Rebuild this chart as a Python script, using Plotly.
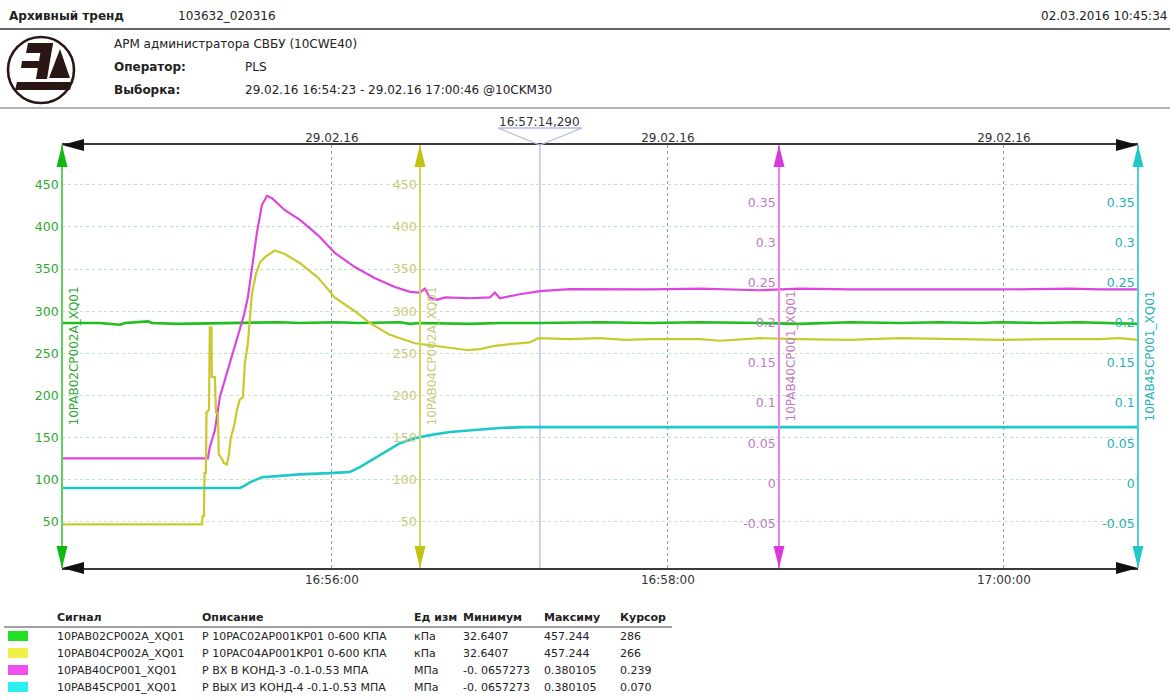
import plotly.graph_objects as go

DAY = "2016-02-29 "
x_range = ["16:54:23.6", "17:00:47.9"]
cursor_time = "16:57:14.29"
time_ticks = ["16:56:00", "16:58:00", "17:00:00"]
time_tick_text = ["16:56:00", "16:58:00", "17:00:00"]
date_tick_text = ["29.02.16", "29.02.16", "29.02.16"]

kpa_range = [-4.7, 497.3]
kpa_ticks = [50, 100, 150, 200, 250, 300, 350, 400, 450]
mpa_range = [-0.106, 0.4225]
mpa_ticks = [-0.05, 0, 0.05, 0.1, 0.15, 0.2, 0.25, 0.3, 0.35]
mpa_tick_text = ["-0.05", "0", "0.05", "0.1", "0.15", "0.2", "0.25", "0.3", "0.35"]

green_t = ["16:54:23.6", "16:54:37.1", "16:54:44.3", "16:54:46.1", "16:54:54.3", "16:54:55.7",
           "16:55:05.0", "16:55:23.6", "16:55:41.4", "16:55:48.6", "16:56:01.1", "16:56:10.0",
           "16:56:24.3", "16:56:27.9", "16:56:31.4", "16:56:49.3", "16:57:00.0", "16:57:14.3",
           "16:57:35.7", "16:57:53.6", "16:58:11.4", "16:58:32.9", "16:58:47.1", "16:59:05.0",
           "16:59:22.9", "16:59:37.1", "16:59:51.4", "16:59:58.6", "17:00:12.9", "17:00:27.1",
           "17:00:37.9", "17:00:45.0", "17:00:47.9"]
green_v = [286, 286, 284, 286, 288, 286, 285, 286, 287, 286, 287, 286, 287, 285, 286, 285, 286,
           286, 287, 286, 287, 286, 285, 287, 286, 287, 286, 287, 286, 287, 286, 285, 285]

yellow_t = ["16:54:23.6", "16:55:13.6", "16:55:13.8", "16:55:14.3", "16:55:14.5", "16:55:15.0",
            "16:55:15.2", "16:55:16.1", "16:55:16.4", "16:55:17.0", "16:55:17.1", "16:55:18.2",
            "16:55:18.6", "16:55:19.3", "16:55:19.6", "16:55:20.7", "16:55:21.4", "16:55:22.5",
            "16:55:23.2", "16:55:23.9", "16:55:25.0", "16:55:26.1", "16:55:27.1", "16:55:28.2",
            "16:55:28.9", "16:55:30.0", "16:55:31.4", "16:55:32.9", "16:55:34.3", "16:55:36.4",
            "16:55:39.6", "16:55:43.2", "16:55:48.6", "16:55:55.0", "16:56:01.1", "16:56:08.2",
            "16:56:13.6", "16:56:20.7", "16:56:29.6", "16:56:38.6", "16:56:48.2", "16:56:52.9",
            "16:56:58.2", "16:57:03.6", "16:57:10.7", "16:57:13.6", "16:57:25.0", "16:57:35.7",
            "16:57:44.6", "16:57:53.6", "16:58:11.4", "16:58:18.6", "16:58:32.9", "16:58:47.1",
            "16:59:05.0", "16:59:22.9", "16:59:40.7", "16:59:58.6", "17:00:16.4", "17:00:34.3",
            "17:00:41.4", "17:00:47.9"]
yellow_v = [47, 47, 57, 57, 108, 108, 180, 183, 281, 281, 222, 222, 180, 178, 130, 125, 120, 118,
            130, 150, 163, 183, 195, 198, 238, 262, 320, 345, 358, 365, 372, 368, 357, 340, 316,
            300, 286, 272, 262, 258, 254, 255, 259, 261, 263, 268, 267, 268, 266, 267, 267, 265,
            268, 267, 266, 268, 267, 266, 267, 267, 268, 266]

magenta_t = ["16:54:23.6", "16:55:15.7", "16:55:16.4", "16:55:18.2", "16:55:20.0", "16:55:21.8",
             "16:55:23.6", "16:55:25.4", "16:55:27.1", "16:55:28.6", "16:55:30.0", "16:55:31.4",
             "16:55:33.2", "16:55:35.0", "16:55:36.8", "16:55:38.6", "16:55:43.2", "16:55:48.6",
             "16:55:55.0", "16:56:01.1", "16:56:08.2", "16:56:15.4", "16:56:22.5", "16:56:27.9",
             "16:56:31.4", "16:56:33.2", "16:56:35.0", "16:56:37.5", "16:56:40.4", "16:56:49.3",
             "16:56:56.4", "16:56:58.2", "16:57:00.0", "16:57:07.1", "16:57:14.3", "16:57:25.0",
             "16:57:35.7", "16:57:53.6", "16:58:11.4", "16:58:32.9", "16:58:47.1", "16:59:05.0",
             "16:59:22.9", "16:59:44.3", "16:59:58.6", "17:00:23.6", "17:00:34.3", "17:00:47.9"]
magenta_v = [0.031, 0.031, 0.045, 0.066, 0.108, 0.129, 0.150, 0.170, 0.191, 0.210, 0.2325, 0.270,
             0.3125, 0.3475, 0.359, 0.356, 0.341, 0.329, 0.310, 0.2875, 0.270, 0.256, 0.245, 0.239,
             0.238, 0.243, 0.232, 0.229, 0.232, 0.231, 0.232, 0.238, 0.231, 0.236, 0.240, 0.2425,
             0.242, 0.242, 0.243, 0.241, 0.243, 0.242, 0.242, 0.242, 0.242, 0.243, 0.242, 0.242]

cyan_t = ["16:54:23.6", "16:55:27.1", "16:55:28.9", "16:55:30.7", "16:55:35.0", "16:55:41.4",
          "16:55:48.6", "16:55:59.3", "16:56:06.4", "16:56:10.0", "16:56:17.1", "16:56:24.3",
          "16:56:29.6", "16:56:35.0", "16:56:42.1", "16:56:49.3", "16:57:00.0", "16:57:08.9",
          "17:00:47.9"]
cyan_v = [-0.006, -0.006, -0.003, 0.001, 0.0075, 0.009, 0.011, 0.0125, 0.014, 0.020, 0.035, 0.050,
          0.056, 0.060, 0.064, 0.066, 0.069, 0.070, 0.070]

signals = ["10PAB02CP002A_XQ01", "10PAB04CP002A_XQ01", "10PAB40CP001_XQ01", "10PAB45CP001_XQ01"]
descriptions = ["P 10PAC02AP001KP01 0-600 КПА", "P 10PAC04AP001KP01 0-600 КПА",
                "P ВХ В КОНД-3 -0.1-0.53 МПА", "P ВЫХ ИЗ КОНД-4 -0.1-0.53 МПА"]
units = ["кПа", "кПа", "МПа", "МПа"]
minimums = ["32.6407", "32.6407", "-0. 0657273", "-0. 0657273"]
maximums = ["457.244", "457.244", "0.380105", "0.380105"]
cursor_vals = ["286", "266", "0.239", "0.070"]

line_colors = ["#1fbf1f", "#c9c92e", "#dd45dd", "#1ec8c8"]
arrow_colors = ["#12b812", "#c2c210", "#db38db", "#20c8c8"]
axisline_colors = ["#5fd05f", "#d2d266", "#ee80ee", "#4dd0d0"]
tick_colors = ["#2fa82f", "#c9c97a", "#c07ac0", "#25b2b2"]
swatch_colors = ["#22e022", "#f0f048", "#f050f0", "#28f0f0"]

FONT = "DejaVu Sans"
W, H = 1176, 700
L, R, T, B = 62, 1138, 145, 568


def P(x, y):
    return (x - L) / (R - L), (B - y) / (B - T)


def path(points):
    s = ""
    for i, (x, y) in enumerate(points):
        px, py = P(x, y)
        s += ("M" if i == 0 else "L") + f"{px:.5f},{py:.5f} "
    return s + "Z"


def ts(lst):
    return [DAY + t for t in lst]


fig = go.Figure()
fig.add_trace(go.Scatter(x=ts(yellow_t), y=yellow_v, yaxis="y3", mode="lines",
                         line=dict(color=line_colors[1], width=2.2), hoverinfo="skip"))
fig.add_trace(go.Scatter(x=ts(cyan_t), y=cyan_v, yaxis="y4", mode="lines",
                         line=dict(color=line_colors[3], width=2.6), hoverinfo="skip"))
fig.add_trace(go.Scatter(x=ts(magenta_t), y=magenta_v, yaxis="y2", mode="lines",
                         line=dict(color=line_colors[2], width=2.2), hoverinfo="skip"))
fig.add_trace(go.Scatter(x=ts(green_t), y=green_v, yaxis="y", mode="lines",
                         line=dict(color=line_colors[0], width=2.6), hoverinfo="skip"))
fig.add_trace(go.Scatter(x=ts(green_t), y=green_v, xaxis="x2", yaxis="y", mode="lines",
                         line=dict(color="rgba(0,0,0,0)", width=0), hoverinfo="skip"))

pos = [0.0, (420 - L) / (R - L), (779 - L) / (R - L), 1.0]
tickfont = lambda c: dict(family=FONT, size=12.5, color=c)

common_y = dict(anchor="free", side="left", ticks="", zeroline=False, showline=True,
                linewidth=1.6, fixedrange=True)
fig.update_layout(
    width=W, height=H,
    margin=dict(l=L, r=W - R, t=T, b=H - B),
    paper_bgcolor="white", plot_bgcolor="white",
    showlegend=False,
    font=dict(family=FONT, size=12, color="#222"),
    xaxis=dict(type="date", range=ts(x_range), tickvals=ts(time_ticks), ticktext=time_tick_text,
               showgrid=True, gridcolor="#9a9a9a", griddash="dot", gridwidth=1,
               showline=True, linecolor="#3a3a3a", linewidth=1.6, mirror=True,
               ticks="", zeroline=False, tickfont=dict(family=FONT, size=12, color="#333")),
    xaxis2=dict(type="date", overlaying="x", side="top", matches="x", anchor="y",
                tickvals=ts(time_ticks), ticktext=date_tick_text, showgrid=False, showline=False,
                ticks="", zeroline=False, tickfont=dict(family=FONT, size=12, color="#333")),
    yaxis=dict(range=kpa_range, tickvals=kpa_ticks, ticktext=[str(v) for v in kpa_ticks],
               position=pos[0], showgrid=True, gridcolor="#bfe2bf", griddash="dot",
               linecolor=axisline_colors[0], tickfont=tickfont(tick_colors[0]), **common_y),
    yaxis3=dict(range=kpa_range, tickvals=kpa_ticks, ticktext=[str(v) for v in kpa_ticks],
                overlaying="y", position=pos[1], showgrid=False,
                linecolor=axisline_colors[1], tickfont=tickfont(tick_colors[1]), **common_y),
    yaxis2=dict(range=mpa_range, tickvals=mpa_ticks, ticktext=mpa_tick_text,
                overlaying="y", position=pos[2], showgrid=False,
                linecolor=axisline_colors[2], tickfont=tickfont(tick_colors[2]), **common_y),
    yaxis4=dict(range=mpa_range, tickvals=mpa_ticks, ticktext=mpa_tick_text,
                overlaying="y", position=pos[3], showgrid=False,
                linecolor=axisline_colors[3], tickfont=tickfont(tick_colors[3]), **common_y),
)

shapes = []
# axis arrowheads
for p, c in zip(pos, arrow_colors):
    ax = L + p * (R - L)
    shapes.append(dict(type="path", xref="paper", yref="paper", fillcolor=c, line=dict(width=0),
                       path=path([(ax, T), (ax - 5.5, T + 22), (ax + 5.5, T + 22)])))
    shapes.append(dict(type="path", xref="paper", yref="paper", fillcolor=c, line=dict(width=0),
                       path=path([(ax, B), (ax - 5.5, B - 22), (ax + 5.5, B - 22)])))
for yy in (T, B):
    shapes.append(dict(type="path", xref="paper", yref="paper", fillcolor="#111", line=dict(width=0),
                       path=path([(L, yy), (L + 22, yy - 6), (L + 22, yy + 6)])))
    shapes.append(dict(type="path", xref="paper", yref="paper", fillcolor="#111", line=dict(width=0),
                       path=path([(R, yy), (R - 22, yy - 6), (R - 22, yy + 6)])))

# cursor
shapes.append(dict(type="line", xref="x", yref="paper", x0=DAY + cursor_time, x1=DAY + cursor_time,
                   y0=0, y1=1, line=dict(color="#c4c4ec", width=1.6), layer="below"))
shapes.append(dict(type="path", xref="x", xsizemode="pixel", xanchor=DAY + cursor_time,
                   yref="paper", ysizemode="pixel", yanchor=1,
                   path="M-42,17 L42,17 M-42,17 L0,0 L42,17", line=dict(color="#b8b8e8", width=1.3)))

# header lines
for yy, col in ((29, "#333"), (108, "#9a9a9a")):
    x0, y0 = P(0, yy)
    x1, _ = P(1170, yy)
    shapes.append(dict(type="line", xref="paper", yref="paper", x0=x0, x1=x1, y0=y0, y1=y0,
                       line=dict(color=col, width=1.5)))

# logo
cx, cy, r = 41, 70, 33
x0, y0 = P(cx - r, cy + r)
x1, y1 = P(cx + r, cy - r)
shapes.append(dict(type="circle", xref="paper", yref="paper", x0=x0, y0=y0, x1=x1, y1=y1,
                   line=dict(color="#2a1612", width=2.6)))
logo_parts = [
    [(28, 43), (53, 43), (51, 53), (26, 53)],
    [(42, 43), (53, 43), (47, 79), (36, 79)],
    [(22, 61), (45, 61), (44, 68), (21, 68)],
    [(17, 82), (72, 82), (70, 90), (15, 90)],
    [(60, 49), (70, 78), (49, 78)],
]
for part in logo_parts:
    shapes.append(dict(type="path", xref="paper", yref="paper", fillcolor="#2a1612",
                       line=dict(width=0), path=path(part)))

# table
x0, y0 = P(4, 627)
x1, _ = P(672, 627)
shapes.append(dict(type="line", xref="paper", yref="paper", x0=x0, x1=x1, y0=y0, y1=y0,
                   line=dict(color="#444", width=1)))
row_y = [636, 653, 670, 687]
for yy, c in zip(row_y, swatch_colors):
    a, b = P(8, yy + 5)
    cc, d = P(28, yy - 5)
    shapes.append(dict(type="rect", xref="paper", yref="paper", x0=a, y0=b, x1=cc, y1=d,
                       fillcolor=c, line=dict(width=0)))

fig.update_layout(shapes=shapes)

ann = []


def text(x, y, s, size=12, color="#222", bold=False, anchor="left", angle=0, xshift=0, xpaper=None, ypaper=None):
    px, py = P(x, y)
    if xpaper is not None:
        px = xpaper
    if ypaper is not None:
        py = ypaper
    ann.append(dict(x=px, y=py, xref="paper", yref="paper", text=f"<b>{s}</b>" if bold else s,
                    showarrow=False, xanchor=anchor if angle == 0 else "center",
                    yanchor="middle", textangle=angle, xshift=xshift,
                    font=dict(family=FONT, size=size, color=color)))


text(7, 16, "Архивный тренд", bold=True)
text(176, 16, "103632_020316")
text(1169, 16, "02.03.2016 10:45:34", anchor="right")
text(112, 44, "АРМ администратора СВБУ (10CWE40)")
text(112, 67, "Оператор:", bold=True)
text(243, 67, "PLS")
text(112, 90, "Выборка:", bold=True)
text(243, 90, "29.02.16 16:54:23 - 29.02.16 17:00:46 @10CKM30")

# rotated axis names
for p, c, s in zip(pos, tick_colors, signals):
    text(0, 0, s, size=12, color=c, angle=-90, xshift=11, xpaper=p, ypaper=0.5)

# cursor label
ann.append(dict(x=DAY + cursor_time, xref="x", y=1, yref="paper", yshift=23, text="16:57:14,290",
                showarrow=False, xanchor="center", yanchor="middle",
                font=dict(family=FONT, size=12, color="#333")))

cols = [55, 200, 412, 461, 542, 618]
headers = ["Сигнал", "Описание", "Ед изм", "Минимум", "Максиму", "Курсор"]
for cx_, h in zip(cols, headers):
    text(cx_, 617, h, size=11, bold=True)
for i, yy in enumerate(row_y):
    vals = [signals[i], descriptions[i], units[i], minimums[i], maximums[i], cursor_vals[i]]
    for cx_, v in zip(cols, vals):
        text(cx_, yy, v, size=11)

fig.update_layout(annotations=ann)
fig.write_html("out.html", config={"displayModeBar": False},
               post_script="document.body.style.margin='0px';document.body.style.overflow='hidden';")
